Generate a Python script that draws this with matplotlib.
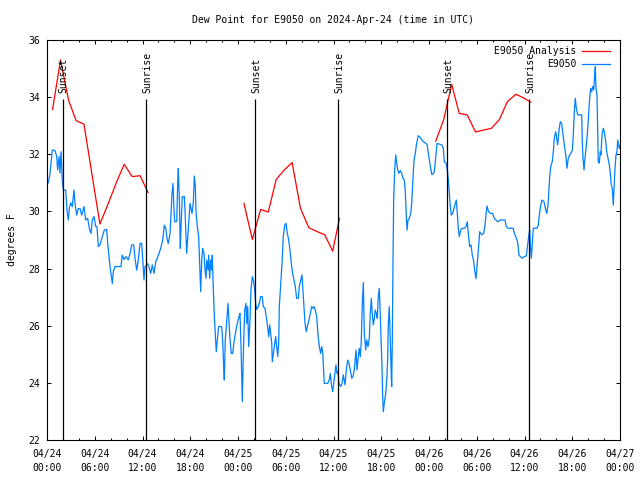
import matplotlib
matplotlib.use("Agg")
import matplotlib.pyplot as plt
from matplotlib.ticker import MultipleLocator
import numpy as np

# hours since 2024-04-24 00:00 UTC
obs_hours = [
    0.16, 0.38, 0.67, 1.01, 1.22, 1.34, 1.51, 1.63, 1.76, 1.92, 2.05, 2.35, 2.51, 2.68, 2.80, 2.98,
    3.18, 3.39, 3.52, 3.73, 3.93, 4.15, 4.36, 4.65, 4.86, 5.11, 5.32, 5.53, 5.69, 5.91, 6.12, 6.28,
    6.45, 6.66, 6.95, 7.20, 7.50, 7.63, 7.83, 8.00, 8.21, 8.33, 8.54, 8.88, 9.30, 9.46, 9.68, 9.93,
    10.22, 10.43, 10.64, 10.89, 11.06, 11.27, 11.47, 11.69, 11.90, 12.03, 12.19, 12.31,
    12.44, 12.60, 12.82, 13.03, 13.23, 13.45, 13.66, 13.86, 14.07, 14.29, 14.54, 14.74, 14.92, 15.12,
    15.24, 15.46, 15.54, 15.71, 15.83, 15.96, 16.05, 16.30, 16.42, 16.50, 16.62, 16.75, 16.84, 17.00,
    17.25, 17.34, 17.47, 17.55, 17.68, 17.84, 17.97, 18.09, 18.22, 18.38, 18.51, 18.64, 18.72, 18.89,
    19.06, 19.14, 19.26, 19.31, 19.44, 19.56, 19.73, 19.85, 19.98, 20.07, 20.23, 20.32, 20.44, 20.57,
    20.70, 20.77, 20.90, 21.02, 21.20, 21.27, 21.40, 21.58, 21.95, 22.08, 22.20, 22.28, 22.40, 22.58,
    22.74, 22.87, 23.00, 23.16, 23.33, 23.50, 23.71, 23.91, 24.13, 24.25, 24.38, 24.47, 24.54, 24.67,
    24.84,
    25.01, 25.09, 25.22, 25.34, 25.51, 25.63, 25.80, 25.97, 26.10, 26.22, 26.35, 26.55, 26.73, 26.85,
    27.05, 27.18, 27.39, 27.61, 27.77, 27.86, 27.98, 28.11, 28.24, 28.31, 28.44, 28.56, 28.74, 28.86,
    28.99, 29.11, 29.19, 29.37, 29.53, 29.69, 29.87, 30.03, 30.20, 30.37, 30.53, 30.70, 30.87, 31.04,
    31.20, 31.37, 31.58, 31.70, 31.88, 32.04, 32.13, 32.29, 32.42, 32.58, 32.76, 32.92, 33.13, 33.26,
    33.42, 33.55, 33.71, 33.89, 34.05, 34.22, 34.39, 34.52, 34.64, 34.72, 34.84, 35.06, 35.27, 35.47,
    35.60, 35.72, 35.90, 36.03, 36.19, 36.31, 36.44, 36.57, 36.69, 36.90, 37.07, 37.23, 37.45,
    37.61, 37.79, 37.95, 38.11, 38.29, 38.45, 38.61, 38.74, 38.83, 38.95, 39.12, 39.24, 39.37, 39.49,
    39.62, 39.75, 39.87, 40.05, 40.17, 40.34, 40.50, 40.62, 40.75, 40.87, 41.00, 41.13, 41.25, 41.38,
    41.50, 41.63, 41.75, 41.84, 41.97, 42.09, 42.18, 42.26, 42.38, 42.56, 42.69, 42.81, 42.89, 43.01,
    43.14, 43.23, 43.31, 43.39, 43.48, 43.56, 43.69, 43.82, 43.94, 44.07, 44.23, 44.39, 44.57, 44.73,
    44.90, 45.02, 45.15, 45.24, 45.36, 45.53, 45.70, 45.83, 45.95, 46.12, 46.28, 46.45, 46.66, 46.87,
    47.25, 47.50, 47.75, 47.94, 48.13, 48.34, 48.50, 48.67, 48.84, 49.01, 49.26, 49.60, 49.80, 49.92,
    50.14, 50.30,
    50.43, 50.55, 50.68, 50.80, 50.98, 51.14, 51.31, 51.43, 51.56, 51.68, 51.81, 51.98, 52.18, 52.43,
    52.65, 52.81, 52.94, 53.11, 53.28, 53.44, 53.62, 53.74, 53.91, 54.12, 54.25, 54.37, 54.62, 54.87,
    55.04, 55.16, 55.29, 55.41, 55.58, 55.79, 56.00, 56.20, 56.46, 56.71, 56.92, 57.26, 57.55, 57.71,
    57.96, 58.30, 58.59, 58.72, 58.90, 59.06, 59.18, 59.31, 59.47, 59.72, 59.97, 60.23, 60.40, 60.53,
    60.65, 60.73, 60.86, 60.98, 61.11, 61.32, 61.57, 61.73, 61.86, 62.04, 62.20, 62.45, 62.62, 62.79,
    62.95, 63.08, 63.20, 63.33, 63.49, 63.62, 63.74, 63.92, 64.05, 64.17, 64.34, 64.50, 64.67, 64.84,
    65.00, 65.18, 65.34, 65.50, 65.68, 65.84, 66.01, 66.13, 66.26, 66.38, 66.51, 66.69, 66.97, 67.19,
    67.26, 67.35, 67.48, 67.60, 67.73, 67.89, 68.02, 68.19, 68.32, 68.44, 68.57, 68.70, 68.82, 68.90,
    68.98, 69.11, 69.20, 69.27, 69.40, 69.52, 69.61, 69.74, 69.90, 70.03, 70.21, 70.33, 70.49, 70.66,
    70.78, 70.91, 71.03, 71.16, 71.25, 71.37, 71.50, 71.62, 71.71, 71.84, 71.91, 72.0,
]
obs_dewpt = [
    31.0, 31.33, 32.15, 32.13, 31.92, 31.45, 31.92, 31.34, 32.09, 31.1, 30.75, 30.75, 30.05, 29.7, 30.1, 30.3,
    30.17, 30.75, 30.28, 29.87, 30.1, 30.1, 29.87, 30.17, 29.7, 29.76, 29.41, 29.23, 29.7, 29.82, 29.47, 29.47,
    28.77, 28.83, 29.12, 29.35, 29.37, 28.88, 28.3, 27.89, 27.48, 27.89, 28.07, 28.07, 28.07, 28.47, 28.32, 28.42,
    28.3, 28.53, 28.83, 28.83, 28.36, 27.95, 28.3, 28.88, 28.88, 28.3, 27.6, 28.07,
    28.07, 28.18, 28.07, 27.83, 28.13, 27.83, 28.24, 28.36, 28.53, 28.71, 29.0, 29.52, 29.41, 29.0,
    28.88, 29.23, 29.7, 30.63, 30.98, 30.05, 29.64, 29.64, 30.98, 31.5, 30.52, 28.71, 29.47, 30.52,
    30.52, 30.05, 29.06, 28.53, 29.06, 29.7, 30.28, 30.11, 29.93, 30.28, 31.24, 30.87, 29.99, 29.47,
    29.12, 28.47, 27.6, 27.19, 28.3, 28.71, 28.53, 27.95, 27.66, 28.3, 27.95, 28.47, 27.66, 28.3,
    27.95, 28.47, 27.25, 26.38, 25.5, 25.09, 25.5, 25.97, 25.97, 25.44, 24.57, 24.1, 25.5, 26.14,
    26.78, 26.14, 25.5, 25.03, 25.03, 25.44, 25.79, 26.08, 26.32, 26.43, 25.27, 24.1, 23.34, 25.0,
    26.55,
    26.78, 26.08, 26.67, 25.27, 26.2, 27.25, 27.72, 27.54, 27.25, 26.78, 26.57, 26.67, 26.84, 27.02,
    27.02, 26.67, 26.61, 26.2, 25.85, 25.62, 26.03, 25.73, 25.38, 24.74, 25.03, 25.27, 25.62, 25.27,
    24.92, 25.38, 26.67, 27.48, 28.18, 29.12, 29.52, 29.58, 29.23, 29.0, 28.65, 28.18, 27.83, 27.6,
    27.37, 26.96, 26.96, 27.37, 27.6, 27.78, 27.37, 26.61, 26.08, 25.79, 26.03, 26.2, 26.49, 26.67,
    26.61, 26.67, 26.55, 26.32, 25.68, 25.27, 25.03, 25.27, 25.09, 24.63, 23.98, 23.98, 23.98, 24.1,
    24.33, 23.98, 23.69, 23.98, 24.33, 24.63, 24.33, 24.4, 23.98, 23.87, 23.98, 24.28, 23.93,
    24.45, 24.8, 24.68, 24.45, 24.16, 24.22, 24.45, 24.86, 25.15, 24.45, 24.92, 25.21, 24.92, 25.44,
    26.78, 27.51, 25.73, 25.15, 25.5, 25.27, 25.56, 26.43, 26.96, 26.43, 26.03, 26.26, 26.55, 26.43,
    26.26, 27.02, 27.31, 26.67, 25.62, 24.57, 23.52, 22.99, 23.28, 23.63, 24.1, 24.86, 26.03, 26.67,
    25.38, 24.57, 23.87, 25.5, 28.36, 30.4, 31.45, 31.98, 31.69, 31.45, 31.33, 31.43, 31.33, 31.16,
    31.1, 30.69, 29.82, 29.35, 29.7, 29.76, 29.93, 30.28, 30.98, 31.8, 32.03, 32.4, 32.65, 32.6,
    32.45, 32.4, 32.35, 32.0, 31.65, 31.3, 31.3, 31.4, 31.9, 32.38, 32.36, 32.33, 32.21, 31.74,
    31.69, 31.45,
    31.1, 30.63, 30.17, 29.87, 29.93, 30.11, 30.28, 30.4, 29.93, 29.41, 29.12, 29.35, 29.41, 29.41,
    29.47, 29.64, 29.23, 28.77, 28.83, 28.47, 28.24, 27.95, 27.65, 28.36, 28.83, 29.29, 29.18, 29.23,
    29.52, 29.87, 30.19, 30.05, 29.96, 29.93, 29.93, 29.76, 29.68, 29.64, 29.7, 29.7, 29.7, 29.47,
    29.41, 29.41, 29.41, 29.23, 29.12, 29.0, 28.83, 28.47, 28.42, 28.36, 28.42, 28.44, 28.83, 29.14,
    29.35, 28.88, 28.36, 28.88, 29.41, 29.41, 29.41, 29.52, 29.87, 30.22, 30.4, 30.34, 30.11, 29.93,
    30.22, 30.81, 31.33, 31.62, 31.74, 32.09, 32.56, 32.79, 32.56, 32.33, 32.85, 33.14, 33.08, 32.68,
    32.33, 31.98, 31.51, 31.86, 31.98, 32.03, 32.15, 32.68, 33.49, 33.96, 33.61, 33.38, 33.38, 33.38,
    32.44, 31.86, 31.45, 31.86, 32.21, 32.68, 33.26, 33.96, 34.31, 34.19, 34.37, 34.25, 34.78, 35.07,
    34.31, 34.08, 32.68, 31.74, 31.69, 32.09, 31.98, 32.68, 32.91, 32.79, 32.44, 32.09, 31.86, 31.62,
    31.33, 30.92, 30.81, 30.22, 30.81, 31.51, 31.98, 32.09, 32.5, 32.33, 32.21, 32.3,
]

# overnight analysis runs
anl_hours = [
    [0.7, 1.7, 2.7, 3.65, 4.65, 5.65, 6.65, 7.7, 8.7, 9.7, 10.7, 11.7, 12.7],
    [24.75, 25.8, 26.85, 27.8, 28.8, 29.8, 30.8, 31.85, 32.9, 33.9, 34.9, 35.9, 36.75],
    [48.85, 49.85, 50.85, 51.8, 52.8, 53.85, 54.85, 55.85, 56.85, 57.85, 58.9, 59.85, 60.8],
]
anl_dewpt = [
    [33.57, 35.3, 33.9, 33.18, 33.05, 31.3, 29.56, 30.28, 31.0, 31.65, 31.22, 31.25, 30.66],
    [30.28, 29.02, 30.07, 29.98, 31.12, 31.45, 31.71, 30.11, 29.43, 29.3, 29.18, 28.61, 29.76],
    [32.46, 33.22, 34.45, 33.43, 33.38, 32.78, 32.85, 32.91, 33.22, 33.84, 34.1, 33.98, 33.82],
]

sun_hours = [2.0, 12.5, 26.15, 36.6, 50.3, 60.6]
sun_labels = ["Sunset", "Sunrise", "Sunset", "Sunrise", "Sunset", "Sunrise"]

tick_hours = [0, 6, 12, 18, 24, 30, 36, 42, 48, 54, 60, 66, 72]
tick_labels = ["04/24\n00:00", "04/24\n06:00", "04/24\n12:00", "04/24\n18:00",
               "04/25\n00:00", "04/25\n06:00", "04/25\n12:00", "04/25\n18:00",
               "04/26\n00:00", "04/26\n06:00", "04/26\n12:00", "04/26\n18:00",
               "04/27\n00:00"]

plt.rcParams['font.family'] = 'DejaVu Sans Mono'
plt.rcParams['font.size'] = 7

red = "#ff0000"
blue = "#0080ff"

fig = plt.figure(figsize=(6.4, 4.8), dpi=100)
ax = fig.add_axes([47 / 640, 40 / 480, 573 / 640, 400 / 480])

for i in range(len(anl_hours)):
    ax.plot(anl_hours[i], anl_dewpt[i], color=red, lw=0.9,
            label="E9050 Analysis" if i == 0 else None)
ax.plot(obs_hours, obs_dewpt, color=blue, lw=0.9, label="E9050")

ax.vlines(sun_hours, 22, 33.95, color="black", lw=0.9, zorder=3)
for t, lab in zip(sun_hours, sun_labels):
    ax.text(t + 0.1, 34.15, lab, rotation=90, ha="center", va="bottom", fontsize=7)

ax.set_xlim(0, 72)
ax.set_ylim(22, 36)
ax.set_xticks(tick_hours)
ax.set_xticklabels(tick_labels, linespacing=1.45)
ax.xaxis.set_minor_locator(MultipleLocator(2))
ax.set_yticks(np.arange(22, 37, 2))
ax.tick_params(which="both", direction="in", top=True, right=True, width=0.7)
ax.tick_params(which="major", length=3, pad=5)
ax.tick_params(axis="x", which="major", pad=6.5)
ax.tick_params(which="minor", length=1.5)
for s in ax.spines.values():
    s.set_linewidth(0.8)

ax.set_ylabel("degrees F", labelpad=8)
ax.set_title("Dew Point for E9050 on 2024-Apr-24 (time in UTC)", fontsize=7, pad=12)

leg = ax.legend(loc="upper right", bbox_to_anchor=(0.983, 0.985), frameon=False,
                markerfirst=False, handlelength=2.9, handletextpad=0.6,
                labelspacing=0.35, borderpad=0, borderaxespad=0, fontsize=7)
leg.set_zorder(5)

fig.savefig("out.png", dpi=100)
